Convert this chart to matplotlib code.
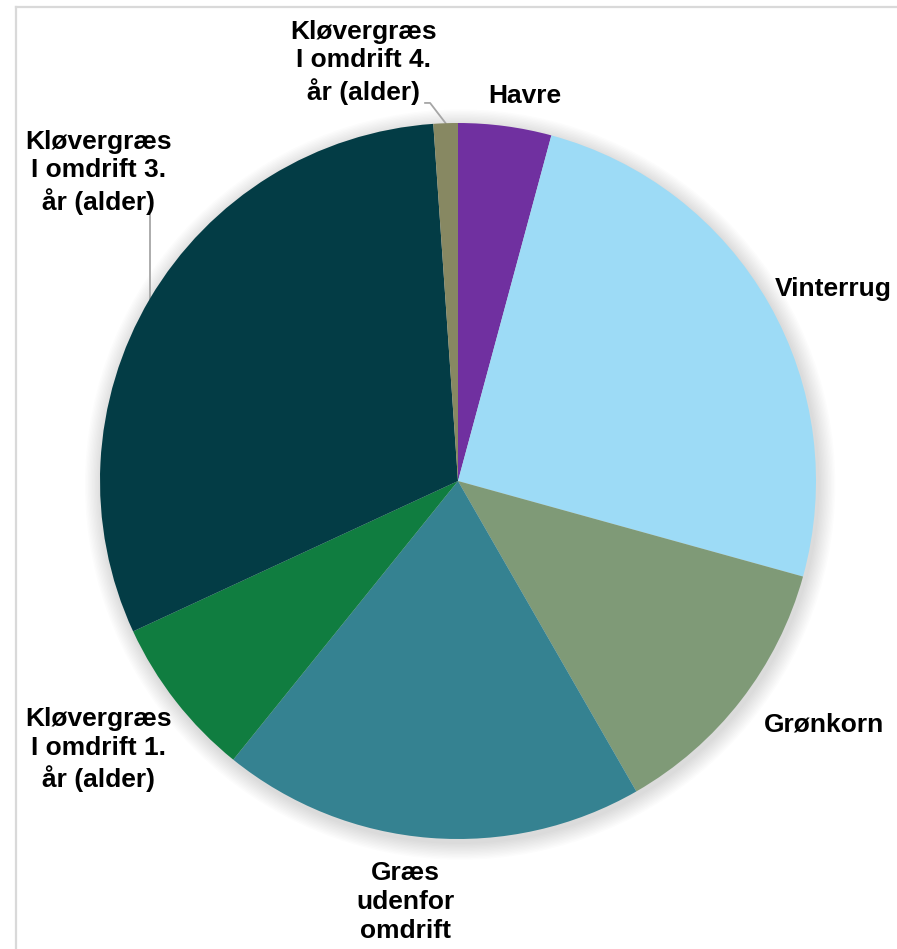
import numpy as np
import matplotlib.pyplot as plt
from matplotlib.lines import Line2D

# arealfordeling (andel i %)
afgroeder = ['Havre', 'Vinterrug', 'Grønkorn', 'Græs\nudenfor\nomdrift',
             'Kløvergræs\nI omdrift 1.\når (alder)', 'Kløvergræs\nI omdrift 3.\når (alder)',
             'Kløvergræs\nI omdrift 4.\når (alder)']
andel = [4.2, 25.1, 12.4, 19.1, 7.3, 30.8, 1.1]
farver = ['#7030A0', '#9DDBF6', '#7F9A77', '#358291', '#107D40', '#033C45', '#878862']

# placering af tekst (data-enheder, radius = 1)
tekst_pos = [(0.187, 1.075), (1.047, 0.536), (1.022, -0.679), (-0.148, -1.176),
             (-1.004, -0.751), (-1.004, 0.863), (-0.265, 1.170)]

plt.rcParams['font.family'] = ['Liberation Sans', 'DejaVu Sans']

fig = plt.figure(figsize=(8.97, 9.49), dpi=100)
ax = fig.add_axes([100 / 897, 110 / 949, 716 / 897, 716 / 949])

# svag skygge bag lagkagen
for i in range(12):
    r = 1.0 + 0.004 * (i + 1)
    ax.add_patch(plt.Circle((0.006, -0.01), r, color='black', alpha=0.012, lw=0,
                            zorder=0, clip_on=False))

wedges, _ = ax.pie(andel, colors=farver, startangle=90, counterclock=False,
                   wedgeprops=dict(linewidth=0), radius=1.0)

for w in wedges:
    w.set_zorder(2)

for (tx, ty), navn in zip(tekst_pos, afgroeder):
    ax.text(tx, ty, navn, ha='center', va='center', fontsize=19, fontweight='bold',
            linespacing=1.25, color='black', zorder=5, clip_on=False)

# ledelinjer til de to klovergraes-felter
def kant_punkt(w):
    mid = np.deg2rad((w.theta1 + w.theta2) / 2)
    return np.cos(mid), np.sin(mid)

ex, ey = kant_punkt(wedges[5])
ax.plot([ex, ex], [0.743, ey], color='#A6A6A6', lw=1.3, zorder=1, clip_on=False)

ex, ey = kant_punkt(wedges[6])
ax.plot([-0.092, -0.078, ex], [1.056, 1.056, ey], color='#A6A6A6', lw=1.3, zorder=1,
        clip_on=False)

ax.set_xlim(-1, 1)
ax.set_ylim(-1, 1)
ax.set_aspect('equal')
ax.axis('off')

# ramme
fig.add_artist(Line2D([16 / 897, 1], [1 - 7 / 949, 1 - 7 / 949], color='#D9D9D9', lw=1.6))
fig.add_artist(Line2D([16 / 897, 16 / 897], [0, 1 - 7 / 949], color='#D9D9D9', lw=1.6))

fig.savefig('out.png', dpi=100, facecolor='white')
